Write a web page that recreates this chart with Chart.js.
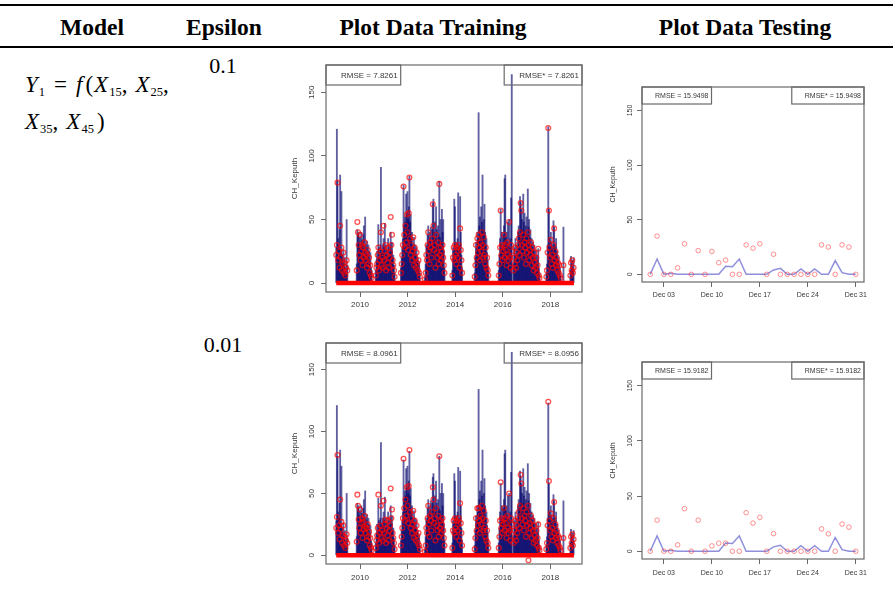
<!DOCTYPE html>
<html>
<head>
<meta charset="utf-8">
<title>SVR CH_Keputh</title>
<script src="https://cdn.jsdelivr.net/npm/chart.js@4.4.1/dist/chart.umd.min.js"></script>
<style>
html, body { margin: 0; padding: 0; background: #fff; }
#page { position: relative; width: 893px; height: 603px; overflow: hidden;
        font-family: "Liberation Serif", "Times New Roman", serif; color: #000; }
.rule { position: absolute; left: 0; width: 893px; height: 2px; background: #000; }
.hdr { position: absolute; top: 16px; font-weight: bold; font-size: 23.5px; line-height: 23px;
       white-space: nowrap; transform: translateX(-50%); }
.eps { position: absolute; font-size: 22px; line-height: 22px; white-space: nowrap; transform: translateX(-50%); }
.eq { position: absolute; left: 25px; font-size: 23px; line-height: 23px; white-space: nowrap; }
.eq sub { font-size: 12.5px; vertical-align: -4px; line-height: 0; margin-left: 1px; }
.eq .op { margin: 0 9px 0 9px; }
.eq .cm { margin-right: 8px; }
.eq .fp { margin-left: 3px; margin-right: 1px; }
canvas { position: absolute; }
</style>
</head>
<body>
<div id="page">
  <div class="rule" style="top:4px"></div>
  <div class="rule" style="top:46px"></div>

  <div class="hdr" style="left:92px">Model</div>
  <div class="hdr" style="left:224px">Epsilon</div>
  <div class="hdr" style="left:433px">Plot Data Training</div>
  <div class="hdr" style="left:745px">Plot Data Testing</div>

  <div class="eq" style="top:73px"><i>Y</i><sub>1</sub><span class="op">=</span><i>f</i><span class="fp">(</span><i>X</i><sub>15</sub><span class="cm">,</span><i>X</i><sub>25</sub>,</div>
  <div class="eq" style="top:110px"><i>X</i><sub>35</sub><span class="cm">,</span><i>X</i><sub>45</sub><span class="fp">)</span></div>

  <div class="eps" style="left:223px;top:55px">0.1</div>
  <div class="eps" style="left:223px;top:334px">0.01</div>

  <canvas id="train01" width="310" height="261" style="left:280px;top:55px"></canvas>
  <canvas id="test01" width="276" height="229" style="left:596px;top:77px"></canvas>
  <canvas id="train001" width="310" height="255" style="left:280px;top:333px"></canvas>
  <canvas id="test001" width="276" height="231" style="left:596px;top:352px"></canvas>
</div>

<script>
// ---------------------------------------------------------------
// Training period (2009-2018): daily rainfall at Keputih, shown as
// wet-season spells sampled every 10 days (dasarian).
// ---------------------------------------------------------------
const stepDays = 10;
const seasonStart = [2009.00, 2009.86, 2010.66, 2011.72, 2012.73, 2013.88,
                     2014.82, 2015.83, 2016.45, 2017.83, 2018.55, 2018.84];

const trainObserved = [
  [28, 121, 80, 35, 30, 42, 85, 25, 72, 22, 18, 26, 15, 20, 12, 8, 50, 14],
  [15, 42, 38, 40, 32, 36, 28, 40, 34, 30, 38, 45, 26, 52, 30, 28, 33, 22, 30, 25, 18, 24, 12, 10],
  [10, 18, 25, 20, 46, 28, 22, 30, 91, 26, 24, 30, 35, 28, 47, 22, 30, 26, 20, 35, 28, 24, 30, 40, 26, 32, 20, 22, 14, 8],
  [12, 20, 28, 35, 77, 45, 52, 48, 70, 55, 72, 50, 60, 84, 48, 54, 35, 40, 30, 28, 36, 26, 30, 22, 28, 18, 20, 14, 16, 8],
  [5, 15, 30, 28, 38, 45, 32, 40, 36, 44, 30, 42, 63, 66, 40, 48, 35, 60, 42, 30, 45, 38, 80, 36, 50, 32, 58, 40, 50, 25, 12],
  [10, 28, 25, 66, 60, 30, 32, 26, 35, 71, 28, 30, 68, 40, 22, 12],
  [8, 20, 32, 28, 40, 35, 134, 45, 52, 38, 60, 48, 85, 42, 50, 62, 40, 30, 35, 24, 18, 10],
  [10, 22, 35, 58, 30, 40, 28, 38, 45, 82, 85, 36, 40, 32, 48, 30, 50, 28, 35, 67, 164],
  [15, 28, 22, 35, 20, 30, 25, 40, 45, 38, 68, 64, 58, 50, 42, 70, 48, 55, 40, 45, 52, 38, 74, 44, 50, 36, 42, 30, 35, 28, 32, 25, 30, 20, 26, 15, 22, 18, 27, 12, 8],
  [8, 15, 30, 123, 58, 35, 28, 40, 32, 30, 26, 49, 44, 30, 28, 35, 22, 25, 18, 20, 15, 12, 6],
  [44],
  [10, 21, 15, 18, 12, 20]
];

const trainPredEps01 = [
  [22, 30, 79, 18, 25, 12, 45, 20, 28, 10, 15, 24, 8, 16, 6, 12, 18, 10],
  [10, 48, 40, 30, 22, 38, 18, 25, 30, 14, 28, 20, 32, 24, 18, 22, 12, 26, 15, 20, 8, 14, 6, 4],
  [6, 12, 15, 22, 28, 10, 18, 25, 40, 14, 20, 12, 45, 18, 25, 30, 10, 22, 16, 28, 12, 20, 24, 52, 30, 38, 18, 14, 10, 5],
  [8, 15, 22, 30, 76, 38, 28, 45, 32, 54, 40, 26, 55, 83, 35, 22, 30, 18, 25, 36, 14, 28, 20, 12, 24, 16, 10, 18, 8, 5],
  [3, 8, 22, 18, 30, 40, 25, 15, 32, 28, 20, 35, 62, 45, 26, 30, 12, 38, 24, 20, 32, 15, 78, 22, 28, 18, 25, 30, 20, 14, 8],
  [6, 20, 28, 18, 30, 22, 15, 28, 20, 25, 30, 12, 43, 26, 18, 8],
  [5, 14, 30, 20, 35, 24, 38, 28, 18, 32, 25, 40, 30, 20, 36, 22, 15, 28, 12, 20, 10, 6],
  [6, 15, 28, 57, 22, 30, 18, 25, 38, 20, 30, 26, 14, 32, 22, 18, 48, 20, 12, 30, 25],
  [10, 20, 15, 28, 12, 24, 18, 30, 35, 22, 40, 63, 57, 30, 25, 38, 20, 32, 28, 15, 35, 24, 40, 30, 18, 26, 22, 32, 14, 28, 20, 10, 24, 16, 12, 20, 8, 14, 27, 6, 4],
  [5, 10, 24, 122, 57, 28, 20, 34, 15, 22, 12, 30, 43, 18, 25, 14, 20, 10, 16, 8, 14, 6, 4],
  [14],
  [6, 16, 10, 18, 8, 12]
];

const trainPredEps001 = [
  [22, 31, 81, 18, 24, 13, 45, 21, 27, 10, 16, 24, 8, 15, 6, 12, 17, 10],
  [11, 49, 40, 29, 22, 37, 18, 26, 30, 14, 27, 21, 32, 23, 18, 22, 12, 25, 15, 19, 8, 14, 6, 4],
  [6, 12, 16, 22, 49, 10, 18, 24, 40, 14, 20, 12, 44, 18, 25, 29, 10, 22, 16, 28, 12, 20, 24, 54, 30, 37, 18, 14, 10, 5],
  [8, 15, 22, 30, 78, 38, 28, 45, 32, 55, 40, 26, 56, 85, 35, 22, 30, 18, 25, 36, 14, 28, 20, 12, 24, 16, 10, 18, 8, 5],
  [3, 8, 22, 18, 30, 40, 25, 15, 32, 28, 20, 35, 55, 45, 26, 30, 12, 38, 24, 20, 32, 15, 80, 22, 28, 18, 25, 30, 20, 14, 8],
  [6, 20, 28, 18, 30, 22, 15, 28, 20, 25, 30, 12, 42, 26, 18, 8],
  [5, 14, 30, 20, 38, 24, 38, 28, 18, 32, 25, 40, 30, 20, 36, 22, 15, 28, 12, 20, 10, 6],
  [6, 15, 28, 59, 22, 30, 18, 25, 38, 20, 30, 26, 14, 32, 22, 18, 50, 20, 12, 30, 25],
  [10, 20, 15, 28, 12, 24, 18, 30, 35, 22, 40, 65, 58, 30, 25, 38, 20, 32, 28, 15, 35, 24, 40, -4, 18, 26, 22, 32, 14, 28, 20, 10, 24, 16, 12, 20, 8, 14, 25, 6, 4],
  [5, 10, 24, 124, 60, 28, 20, 34, 15, 22, 12, 30, 43, 18, 25, 14, 20, 10, 16, 8, 14, 6, 4],
  [14],
  [6, 15, 10, 17, 8, 13]
];

// dry days are predicted as 0 over the whole training period
const trainPeriod = [2009.0, 2018.99];
const trainXTicks = [2010, 2012, 2014, 2016, 2018];
const yTicks = [0, 50, 100, 150];

const rmseTrain01 = ['RMSE = 7.8261', 'RMSE* = 7.8261'];
const rmseTrain001 = ['RMSE = 8.0961', 'RMSE* = 8.0956'];

// ---------------------------------------------------------------
// Testing period: 1-31 December
// ---------------------------------------------------------------
const testDays = [1, 2, 3, 4, 5, 6, 7, 8, 9, 10, 11, 12, 13, 14, 15, 16,
                  17, 18, 19, 20, 21, 22, 23, 24, 25, 26, 27, 28, 29, 30, 31];
const testObserved = [0, 14, 0, 1, 0, 0, 0, 0, 0, 0, 0, 7.5, 7, 14, 0, 0,
                      0, 0, 4, 5.5, 0, 0, 5, 0, 5, 0, 0, 12.5, 1.5, 0, 0];
const testPredEps01 = [0, 35, 0, 0, 6, 28, 0, 21.7, 0, 21, 10.7, 13, 0, 0, 27, 24,
                       28, 0, 18.4, 0, 0, 0, 0, 0, 0, 27, 25, 0, 27, 25, 0];
const testPredEps001 = [0, 28.2, 0, 0, 5.8, 38.6, 0, 28.2, 0, 4.9, 7.3, 7.3, 0, 0, 35, 25.5,
                        30.7, 0, 16, 0, 0, 0, 0, 0, 0, 20.3, 15.8, 0, 24.6, 21.9, 0];
const testXTicks = [3, 10, 17, 24, 31];

const rmseTest01 = ['RMSE = 15.9498', 'RMSE* = 15.9498'];
const rmseTest001 = ['RMSE = 15.9182', 'RMSE* = 15.9182'];

// ---------------------------------------------------------------
const SANS = '"Liberation Sans", Arial, Helvetica, sans-serif';
const INK = '#383838';
const FRAME = '#6a6a6a';

function seasonPoints(series) {
  const pts = [];
  series.forEach((vals, s) => {
    vals.forEach((v, i) => pts.push({ x: seasonStart[s] + i * stepDays / 365.25, y: v }));
  });
  return pts;
}

// plot frame and the two RMSE boxes in the top corners
const framePlugin = {
  id: 'frame',
  afterDatasetsDraw(chart, args, o) {
    const { ctx, chartArea: a } = chart;
    ctx.save();
    ctx.strokeStyle = FRAME;
    ctx.lineWidth = 1.2;
    ctx.strokeRect(a.left, a.top, a.right - a.left, a.bottom - a.top);
    ctx.font = o.fontSize + 'px ' + SANS;
    ctx.fillStyle = INK;
    ctx.textBaseline = 'middle';
    ctx.textAlign = 'left';
    const wl = ctx.measureText(o.text[0]).width + o.padL + o.padR;
    const wr = ctx.measureText(o.text[1]).width + o.padL + o.padR;
    ctx.strokeRect(a.left, a.top, wl, o.boxH);
    ctx.strokeRect(a.right - wr, a.top, wr, o.boxH);
    ctx.fillText(o.text[0], a.left + o.padL, a.top + o.boxH / 2 + 0.5);
    ctx.fillText(o.text[1], a.right - wr + o.padL, a.top + o.boxH / 2 + 0.5);
    ctx.restore();
  }
};

function axes(o) {
  const tickGrid = { drawOnChartArea: false, drawTicks: true, tickLength: 5, color: FRAME, lineWidth: 1 };
  return {
    x: {
      type: 'linear', min: o.xMin, max: o.xMax, offset: false,
      afterFit: s => { s.height = 24; },
      afterBuildTicks: s => { s.ticks = o.xTicks.map(v => ({ value: v })); },
      grid: Object.assign({ offset: false }, tickGrid), border: { display: false },
      ticks: { autoSkip: false, maxRotation: 0, minRotation: 0, padding: o.xPad,
               font: { family: SANS, size: o.fs }, color: INK, callback: o.xFmt }
    },
    y: {
      min: -7, max: 171.5,
      afterFit: s => { s.width = 46; },
      afterBuildTicks: s => { s.ticks = yTicks.map(v => ({ value: v })); },
      grid: tickGrid, border: { display: false },
      ticks: { minRotation: 90, maxRotation: 90, crossAlign: 'center', padding: o.yPad, autoSkip: false,
               font: { family: SANS, size: o.fs }, color: INK, callback: v => String(v) },
      title: { display: true, text: 'CH_Keputh', color: INK, font: { family: SANS, size: o.fs },
               padding: { top: o.titlePad, bottom: 0 } }
    }
  };
}

function baseOptions(o, rmse) {
  return {
    responsive: false, animation: false, devicePixelRatio: 1,
    layout: { padding: { left: 0, right: 8, top: 10, bottom: 0 } },
    plugins: {
      legend: { display: false }, tooltip: { enabled: false },
      frame: { text: rmse, fontSize: o.fs, boxH: o.boxH, padL: o.boxPadL, padR: 3 }
    },
    scales: axes(o)
  };
}

function trainChart(id, pred, rmse, xPad) {
  const o = { xMin: 2008.57, xMax: 2019.33, xTicks: trainXTicks, xFmt: v => String(v),
              fs: 8, xPad: xPad, yPad: 2.5, titlePad: 10, boxH: 20, boxPadL: 15 };
  new Chart(document.getElementById(id), {
    type: 'scatter',
    data: {
      datasets: [
        { type: 'scatter', data: seasonPoints(pred), order: 0,
          pointRadius: 2.4, pointBorderWidth: 1.3, pointBorderColor: 'rgba(255,0,0,0.68)',
          pointBackgroundColor: 'rgba(255,0,0,0)' },
        { type: 'line', data: trainPeriod.map(x => ({ x: x, y: 0 })), order: 1,
          borderColor: '#ff0000', borderWidth: 4.5, pointRadius: 0 },
        { type: 'bar', data: seasonPoints(trainObserved), order: 2,
          backgroundColor: 'rgba(0,0,105,0.62)', borderWidth: 0, barThickness: 1.2 }
      ]
    },
    options: baseOptions(o, rmse),
    plugins: [framePlugin]
  });
}

function testChart(id, pred, rmse, xPad) {
  const o = { xMin: -0.2, xMax: 32.2, xTicks: testXTicks,
              xFmt: v => 'Dec ' + String(v).padStart(2, '0'),
              fs: 7, xPad: xPad, yPad: 0.8, titlePad: 12.5, boxH: 17, boxPadL: 13 };
  new Chart(document.getElementById(id), {
    type: 'scatter',
    data: {
      datasets: [
        { type: 'scatter', data: testDays.map((d, i) => ({ x: d, y: pred[i] })), order: 0,
          pointRadius: 2.3, pointBorderWidth: 1, pointBorderColor: 'rgba(255,40,40,0.5)',
          pointBackgroundColor: 'rgba(255,0,0,0)' },
        { type: 'line', data: testDays.map((d, i) => ({ x: d, y: testObserved[i] })), order: 1,
          borderColor: 'rgba(95,95,205,0.7)', borderWidth: 1.5, pointRadius: 0, tension: 0 }
      ]
    },
    options: baseOptions(o, rmse),
    plugins: [framePlugin]
  });
}

trainChart('train01', trainPredEps01, rmseTrain01, 3);
testChart('test01', testPredEps01, rmseTest01, 3.5);
trainChart('train001', trainPredEps001, rmseTrain001, 4);
testChart('test001', testPredEps001, rmseTest001, 4.5);
</script>
</body>
</html>
